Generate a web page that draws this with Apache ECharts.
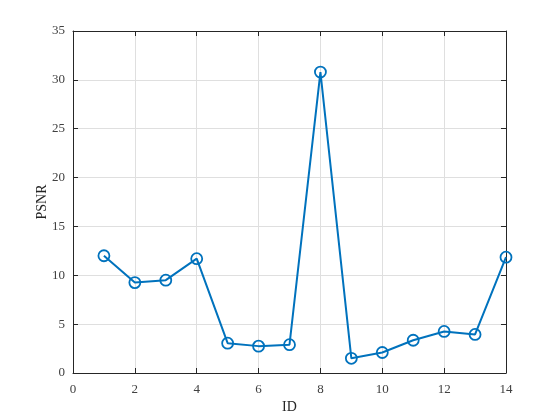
<!DOCTYPE html>
<html>
<head>
<meta charset="utf-8">
<script src="https://cdn.jsdelivr.net/npm/echarts@6/dist/echarts.min.js"></script>
<style>
  html, body { margin: 0; padding: 0; background: #fff; }
  #chart { width: 560px; height: 420px; }
</style>
</head>
<body>
<div id="chart"></div>
<script>
// values
var ids = [1, 2, 3, 4, 5, 6, 7, 8, 9, 10, 11, 12, 13, 14]
var psnr = [12.0, 9.25, 9.5, 11.7, 3.05, 2.75, 2.9, 30.8, 1.5, 2.1, 3.35, 4.25, 3.95, 11.85]

var font = 'Liberation Serif'
var axisColor = '#262626'
var gridColor = '#dfdfdf'

var chart = echarts.init(document.getElementById('chart'))

function boxAxis (pos) {
  return {
    type: 'value',
    position: pos,
    min: 0,
    max: pos === 'top' ? 14 : 35,
    interval: pos === 'top' ? 2 : 5,
    axisLine: { show: true, onZero: false, lineStyle: { color: axisColor, width: 1 } },
    axisTick: { show: true, inside: true, length: 5, lineStyle: { color: axisColor } },
    axisLabel: { show: false },
    splitLine: { show: false }
  }
}

var option = {
  animation: false,
  backgroundColor: '#fff',
  grid: { left: 73, top: 31, width: 433, height: 342, containLabel: false },
  xAxis: [{
    type: 'value',
    min: 0,
    max: 14,
    interval: 2,
    name: 'ID',
    nameLocation: 'middle',
    nameGap: 27,
    nameMoveOverlap: false,
    nameTextStyle: { fontFamily: font, fontSize: 14, color: axisColor },
    axisLine: { onZero: false, lineStyle: { color: axisColor, width: 1 } },
    axisTick: { inside: true, length: 5, lineStyle: { color: axisColor } },
    axisLabel: { fontFamily: font, fontSize: 13, color: '#404040', margin: 10 },
    splitLine: { show: true, lineStyle: { color: gridColor, width: 1 } }
  }, boxAxis('top')],
  yAxis: [{
    type: 'value',
    min: 0,
    max: 35,
    interval: 5,
    name: 'PSNR',
    nameLocation: 'middle',
    nameGap: 24,
    nameMoveOverlap: false,
    nameTextStyle: { fontFamily: font, fontSize: 14, color: axisColor },
    axisLine: { show: true, onZero: false, lineStyle: { color: axisColor, width: 1 } },
    axisTick: { show: true, inside: true, length: 5, lineStyle: { color: axisColor } },
    axisLabel: { fontFamily: font, fontSize: 13, color: '#404040', margin: 8 },
    splitLine: { show: true, lineStyle: { color: gridColor, width: 1 } }
  }, boxAxis('right')],
  series: [{
    type: 'line',
    data: ids.map(function (id, i) { return [id, psnr[i]] }),
    symbol: 'circle',
    symbolSize: 11,
    showAllSymbol: true,
    itemStyle: { color: 'rgba(0,0,0,0)', borderColor: '#0072BD', borderWidth: 1.8 },
    lineStyle: { color: '#0072BD', width: 2 },
    z: 5
  }]
}

chart.setOption(option)
</script>
</body>
</html>
